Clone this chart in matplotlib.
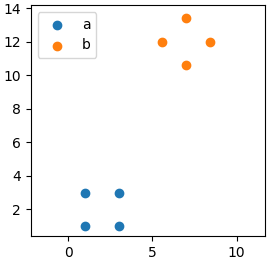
import numpy as np
import matplotlib
matplotlib.use('Agg')
import matplotlib.pyplot as plt

# --- Data ---
a_x = [1, 3, 1, 3]
a_y = [1, 1, 3, 3]

b_x = [5.59, 7, 8.41, 7]
b_y = [12, 13.41, 12, 10.59]

# --- Plot ---
fig = plt.figure(figsize=(2.69, 2.64), dpi=100)
ax = fig.add_axes([0.114, 0.105, 0.872, 0.876])

ax.scatter(a_x, a_y, label='a')
ax.scatter(b_x, b_y, label='b')

ax.set_xlim(-2.22, 11.69)
ax.set_ylim(0.39, 14.18)
ax.set_xticks([0, 5, 10])
ax.set_yticks([2, 4, 6, 8, 10, 12, 14])
ax.legend(loc='upper left')

fig.savefig('out.png', dpi=100)
